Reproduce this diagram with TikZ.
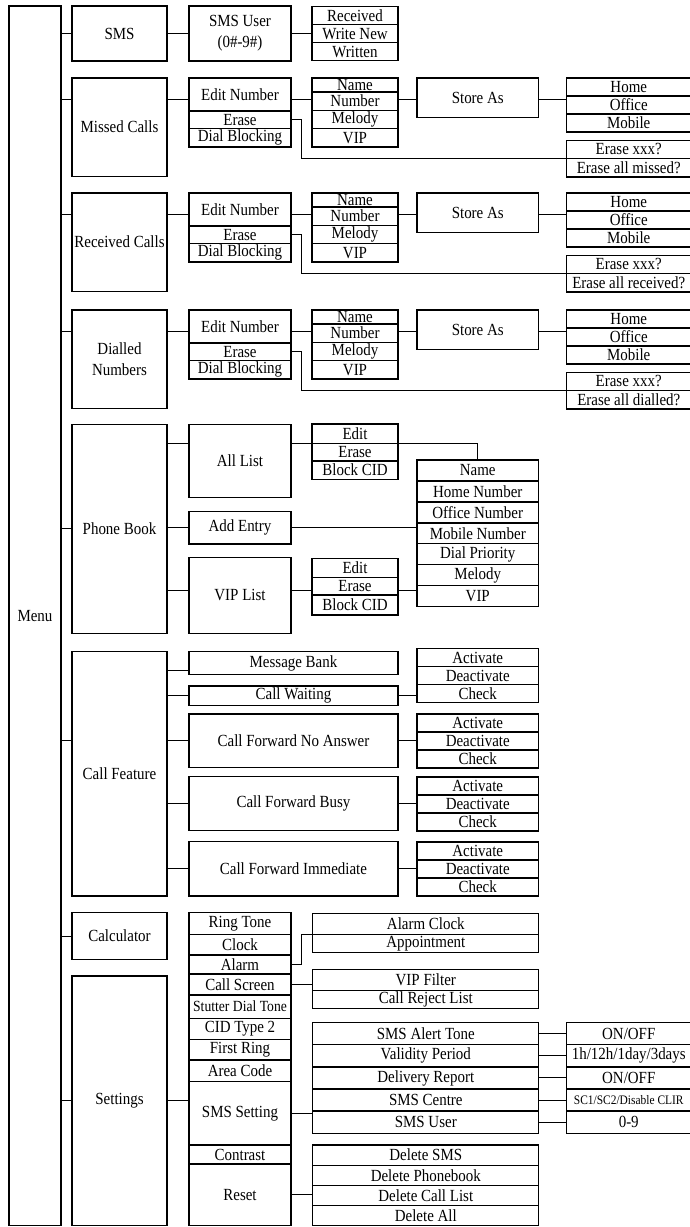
\documentclass[tikz,border=0pt]{standalone}
\usepackage{fontspec}
\setmainfont{Liberation Serif}[FakeStretch=0.88]
\tikzset{
  box/.style={draw, line width=1.3pt, inner sep=0pt, outer sep=0pt, anchor=north west,
    align=center, font=\fontsize{17}{21}\selectfont},
  col1/.style={box, minimum width=95},
  col2/.style={box, minimum width=102},
  col3/.style={box, minimum width=86},
  col4/.style={box, minimum width=121.5},
  col5/.style={box, minimum width=124.5},
  wide/.style={box, minimum width=209},
  long/.style={box, minimum width=226},
  link/.style={line width=1pt},
}
\begin{document}
\begin{tikzpicture}[x=1pt, y=-1pt]
  \useasboundingbox (0,0) rectangle (689,1227);
  \node[box, minimum width=52, minimum height=1219.7] (menu) at (9,6) {Menu};

  % SMS
  \node[col1, minimum height=55] (sms) at (72,6) {SMS};
  \node[col2, minimum height=55] (smsuser) at (189,6) {SMS User\\(0\#-9\#)};
  \foreach \t [count=\i] in {Received,Write New,Written}
    \node[col3, minimum height=18] (sm\i) at (312,{6.5+18*(\i-1)}) {\t};
  \draw[link] (menu.east |- sms.west) -- (sms.west);
  \draw[link] (sms) -- (smsuser);
  \draw[link] (smsuser.east) -- (smsuser.east -| sm2.west);

  % call lists
  \foreach \p/\T/\t/\w in {m/78/{Missed Calls}/missed, r/193/{Received Calls}/received, d/310/{Dialled\\Numbers}/dialled} {
    \node[col1, minimum height=98.3] (\p-calls) at (72,\T) {\t};
    \node[col2, minimum height=33] (\p-edit) at (189,\T) {Edit Number};
    \node[col2, minimum height=17.5] (\p-erase) at (189,\T+33) {Erase};
    \node[col2, minimum height=18.5] (\p-block) at (189,\T+50.5) {Dial Blocking};
    \foreach \y/\h/\n [count=\i] in {0/14/Name, 14/18.3/Number, 32.3/18.3/Melody, 50.6/18.4/VIP}
      \node[col3, minimum height=\h] (\p-n\i) at (312,\T+\y) {\n};
    \node[col4, minimum height=39.6] (\p-store) at (417,\T) {Store As};
    \foreach \n [count=\i] in {Home,Office,Mobile}
      \node[col5, minimum height=18] (\p-h\i) at (566.5,{\T+18*(\i-1)}) {\n};
    \node[col5, minimum height=18] (\p-x1) at (566.5,\T+62.3) {Erase xxx?};
    \node[col5, minimum height=18.7] (\p-x2) at (566.5,\T+80.3) {Erase all \w?};
    \coordinate (\p-c) at (0,\T+21);
    \draw[link] (menu.east |- \p-c) -- (\p-calls.west |- \p-c);
    \draw[link] (\p-calls.east |- \p-c) -- (\p-edit.west |- \p-c);
    \draw[link] (\p-edit.east |- \p-c) -- (\p-n1.west |- \p-c);
    \draw[link] (\p-n1.east |- \p-c) -- (\p-store.west |- \p-c);
    \draw[link] (\p-store.east |- \p-c) -- (\p-h1.west |- \p-c);
    \draw[link] (\p-erase.east) -- ++(10.5,0) |- (\p-x1.south west);
  }

  % phone book
  \node[col1, minimum height=209] (pbook) at (72,424.3) {Phone Book};
  \node[col2, minimum height=73.4] (alllist) at (189,424.3) {All List};
  \node[col2, minimum height=32.3] (addentry) at (189,511.7) {Add Entry};
  \node[col2, minimum height=76] (viplist) at (189,557.3) {VIP List};
  \foreach \y/\h/\t [count=\i] in {424/19.3/Edit, 443.3/17.7/Erase, 461/18.3/Block CID}
    \node[col3, minimum height=\h] (ae\i) at (312,\y) {\t};
  \foreach \y/\h/\t [count=\i] in {558.3/19.4/Edit, 577.7/17.3/Erase, 595/20/Block CID}
    \node[col3, minimum height=\h] (ve\i) at (312,\y) {\t};
  \foreach \t [count=\i] in {Name,Home Number,Office Number,Mobile Number,Dial Priority,Melody,VIP}
    \node[col4, minimum height=20.95] (pe\i) at (417,{460+20.95*(\i-1)}) {\t};
  \coordinate (vipc) at (0,590);
  \draw[link] (menu.east |- pbook.west) -- (pbook.west);
  \draw[link] (pbook.east |- ae1.south) -- (alllist.west |- ae1.south);
  \draw[link] (alllist.east |- ae1.south) -- (ae1.south west);
  \draw[link] (ae1.south east) -| (pe1.north);
  \draw[link] (pbook.east |- addentry.west) -- (addentry.west);
  \draw[link] (addentry.east) -- (addentry.east -| pe1.west);
  \draw[link] (pbook.east |- vipc) -- (viplist.west |- vipc);
  \draw[link] (viplist.east |- vipc) -- (ve2.west |- vipc);
  \draw[link] (ve2.east |- vipc) -- (pe1.west |- vipc);

  % call feature
  \node[col1, minimum height=244.3] (cfeat) at (72,651.7) {Call Feature};
  \node[wide, minimum height=22.6] (mbank) at (189,651.7) {Message Bank};
  \node[wide, minimum height=19.7] (cwait) at (189,686) {Call Waiting};
  \node[wide, minimum height=53.7] (cfna) at (189,714) {Call Forward No Answer};
  \node[wide, minimum height=54] (cfb) at (189,776.7) {Call Forward Busy};
  \node[wide, minimum height=54.3] (cfi) at (189,841.7) {Call Forward Immediate};
  \foreach \y/\s [count=\i] in {648.5/cwait, 714/cfna, 777/cfb, 842/cfi} {
    \foreach \t [count=\j] in {Activate,Deactivate,Check}
      \node[col4, minimum height=18] (a\i-\j) at (417,{\y+18*(\j-1)}) {\t};
    \draw[link] (\s.east) -- (\s.east -| a\i-1.west);
  }
  \draw[link] (menu.east |- cfna.west) -- (cfeat.west |- cfna.west);
  \foreach \s in {cwait,cfna,cfb,cfi}
    \draw[link] (cfeat.east |- \s.west) -- (\s.west);
  \draw[link] ([yshift=-7pt]mbank.west) -- ([yshift=-7pt]mbank.west -| cfeat.east);

  % calculator
  \node[col1, minimum height=46.6] (calc) at (72,912.7) {Calculator};
  \draw[link] (menu.east |- calc.west) -- (calc.west);

  % settings
  \node[col1, minimum height=249.7] (settings) at (72,976) {Settings};
  \foreach \n/\y/\h/\t in {ring/912.7/21.6/Ring Tone, clock/934.3/20.7/Clock, alarm/955/19/Alarm,
      cscreen/974/21/Call Screen, stutter/995/23.3/{\fontsize{15.5}{18}\selectfont Stutter Dial Tone},
      cid/1018.3/21/CID Type 2, first/1039.3/20.7/First Ring, area/1060/21.7/Area Code,
      smsset/1081.7/63.3/SMS Setting, contrast/1145/19/Contrast, reset/1164/61.7/Reset}
    \node[col2, minimum height=\h] (\n) at (189,\y) {\t};
  \draw[link] (menu.east |- settings.west) -- (settings.west);
  \draw[link] (settings.east) -- (settings.east -| smsset.west);

  \node[long, minimum height=21] (aclock) at (312.8,913.3) {Alarm Clock};
  \node[long, minimum height=18] (appoint) at (312.8,934.3) {Appointment};
  \draw[link] (alarm.east) -- ++(10.4,0) |- (aclock.south west);
  \node[long, minimum height=21.4] (vipf) at (312.8,969.3) {VIP Filter};
  \node[long, minimum height=17.6] (reject) at (312.8,990.7) {Call Reject List};
  \draw[link] (cscreen.east) -- (cscreen.east -| vipf.west);

  \foreach \t [count=\i] in {SMS Alert Tone,Validity Period,Delivery Report,SMS Centre,SMS User}
    \node[long, minimum height=22.1] (ss\i) at (312.8,{1022.7+22.1*(\i-1)}) {\t};
  \foreach \t [count=\i] in {{ON/OFF},{1h/12h/1day/3days},{ON/OFF},{\fontsize{13}{15}\selectfont SC1/SC2/Disable CLIR},{0-9}} {
    \node[col5, minimum height=22.1] (on\i) at (566.5,{1022.7+22.1*(\i-1)}) {\t};
    \draw[link] (ss\i.east) -- (on\i.west);
  }
  \draw[link] (smsset.east) -- (smsset.east -| ss1.west);

  \foreach \t [count=\i] in {Delete SMS,Delete Phonebook,Delete Call List,Delete All}
    \node[long, minimum height=20.2] (del\i) at (312.8,{1145+20.2*(\i-1)}) {\t};
  \draw[link] (reset.east) -- (reset.east -| del1.west);
\end{tikzpicture}
\end{document}
